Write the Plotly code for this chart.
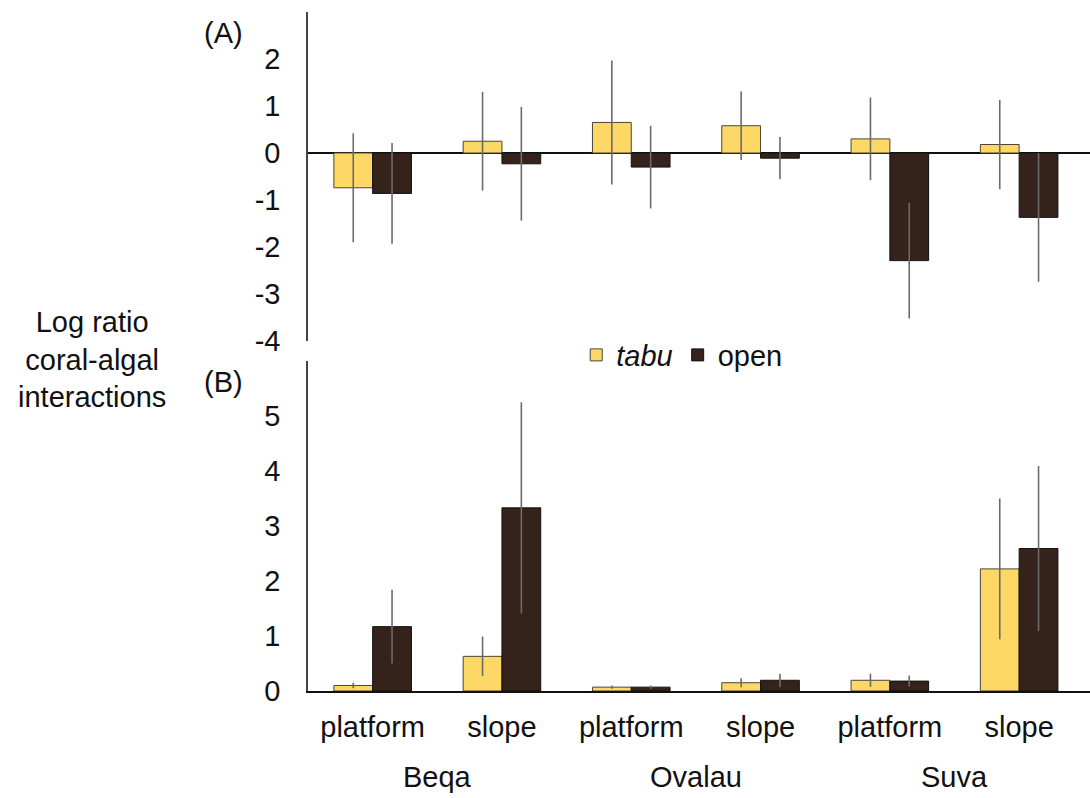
import plotly.graph_objects as go
from plotly.subplots import make_subplots

# Sites and habitats along the x axis
sites = ["Beqa", "Ovalau", "Suva"]
habitats = ["platform", "slope"]
groups = [(s, h) for s in sites for h in habitats]

# (A) log ratio, tabu vs open, with error (+/-)
a_tabu = [-0.74, 0.25, 0.65, 0.58, 0.30, 0.18]
a_tabu_err = [1.16, 1.05, 1.32, 0.73, 0.88, 0.95]
a_open = [-0.86, -0.23, -0.30, -0.11, -2.29, -1.37]
a_open_err = [1.07, 1.21, 0.88, 0.45, 1.23, 1.37]

# (B) log ratio, tabu vs open, with error (+/-)
b_tabu = [0.10, 0.63, 0.07, 0.15, 0.195, 2.22]
b_tabu_err = [0.05, 0.36, 0.03, 0.08, 0.12, 1.28]
b_open = [1.17, 3.33, 0.07, 0.195, 0.18, 2.59]
b_open_err = [0.67, 1.92, 0.03, 0.12, 0.10, 1.50]

# Tick labels (plain hyphen for negatives)
a_ticks = [-4, -3, -2, -1, 0, 1, 2]
b_ticks = [0, 1, 2, 3, 4, 5]

TABU = "#FDD867"
OPEN = "#35221A"
ERR = "#6b6b6b"
FONT = "Arial, 'Liberation Sans', sans-serif"
FS = 29

xpos = list(range(len(groups)))

fig = make_subplots(rows=2, cols=1)


def add_pair(tabu, tabu_err, opn, opn_err, row, show):
    fig.add_trace(go.Bar(
        x=xpos, y=tabu, name="<i>tabu</i>", legendgroup="tabu", showlegend=show,
        marker=dict(color=TABU, line=dict(color="#4a4535", width=1)),
        error_y=dict(type="data", array=tabu_err, color=ERR, thickness=1.6, width=0),
    ), row=row, col=1)
    fig.add_trace(go.Bar(
        x=xpos, y=opn, name="open", legendgroup="open", showlegend=show,
        marker=dict(color=OPEN, line=dict(color="#111111", width=1)),
        error_y=dict(type="data", array=opn_err, color=ERR, thickness=1.6, width=0),
    ), row=row, col=1)


add_pair(a_tabu, a_tabu_err, a_open, a_open_err, 1, True)
add_pair(b_tabu, b_tabu_err, b_open, b_open_err, 2, False)

xrange = [-0.5, 5.548]
tickfont = dict(family=FONT, size=FS, color="#111111")

fig.update_layout(
    width=1090, height=798,
    margin=dict(l=308, r=0, t=12, b=107),
    paper_bgcolor="white", plot_bgcolor="white",
    barmode="group", bargap=0.4, bargroupgap=0,
    font=dict(family=FONT, size=FS, color="#111111"),
    showlegend=True,
    legend=dict(orientation="h", x=0.343, xanchor="left", y=0.4948, yanchor="middle",
                font=dict(family=FONT, size=FS, color="#111111"),
                bgcolor="rgba(0,0,0,0)", itemwidth=30, tracegroupgap=0),
    xaxis=dict(domain=[0, 1], range=xrange, showticklabels=False, showline=False,
               showgrid=False, zeroline=False, ticks=""),
    yaxis=dict(domain=[0.5155, 1], range=[-4, 3], tickvals=a_ticks,
               ticktext=[str(v) for v in a_ticks],
               showgrid=False, zeroline=True, zerolinecolor="#111111", zerolinewidth=1.5,
               showline=True, linecolor="#444444", linewidth=1.5,
               ticks="outside", ticklen=20, tickcolor="rgba(0,0,0,0)", tickfont=tickfont),
    xaxis2=dict(domain=[0, 1], range=xrange, tickvals=xpos, ticktext=[h for _, h in groups],
                showline=True, linecolor="#111111", linewidth=2, showgrid=False, zeroline=False,
                ticks="outside", ticklen=9, tickcolor="rgba(0,0,0,0)", tickfont=tickfont),
    yaxis2=dict(domain=[0, 0.486], range=[0, 6], tickvals=b_ticks,
                ticktext=[str(v) for v in b_ticks],
                showgrid=False, zeroline=False,
                showline=True, linecolor="#444444", linewidth=1.5,
                ticks="outside", ticklen=20, tickcolor="rgba(0,0,0,0)", tickfont=tickfont),
)


# Convert pixel y to paper coordinates for annotations placed outside the axes
def py(y):
    return (798 - 107 - y) / (798 - 12 - 107)


def px(x):
    return (x - 308) / (1090 - 308)


# Site names centred under each pair of habitats
for i, s in enumerate(sites):
    fig.add_annotation(x=2 * i + 0.5, xref="x2", y=py(777), yref="paper", text=s,
                       showarrow=False, font=dict(family=FONT, size=FS, color="#111111"),
                       xanchor="center", yanchor="middle")

fig.add_annotation(x=px(92), xref="paper", y=py(360), yref="paper",
                   text="Log ratio<br>coral-algal<br>interactions", showarrow=False,
                   font=dict(family=FONT, size=FS, color="#111111"), align="center",
                   xanchor="center", yanchor="middle")

for label, yc in (("(A)", 33), ("(B)", 382)):
    fig.add_annotation(x=px(202), xref="paper", y=py(yc), yref="paper",
                       text=label, showarrow=False,
                       font=dict(family=FONT, size=FS, color="#111111"),
                       xanchor="left", yanchor="middle")

fig.write_html("out.html")
